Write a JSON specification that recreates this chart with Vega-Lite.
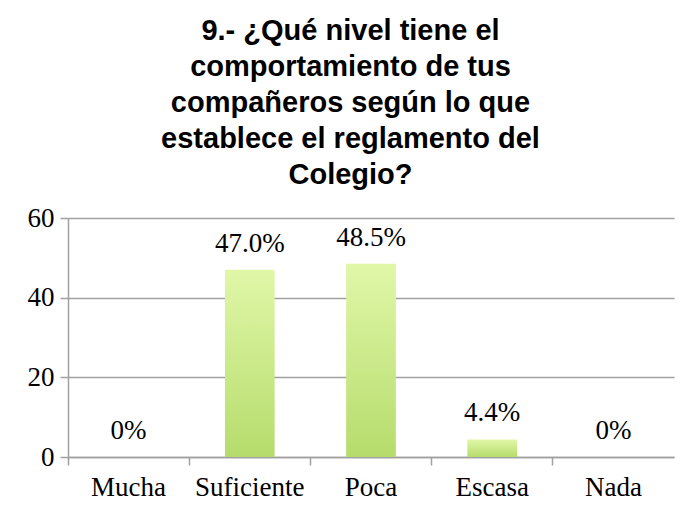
{
  "$schema": "https://vega.github.io/schema/vega-lite/v6.json",
  "width": 606,
  "height": 239,
  "padding": {"left": 27, "top": 17, "right": 20, "bottom": 20},
  "background": "white",
  "title": {
    "text": ["9.- ¿Qué nivel tiene el", "comportamiento de tus", "compañeros según lo que", "establece el reglamento del", "Colegio?"],
    "font": "Liberation Sans",
    "fontSize": 29,
    "fontWeight": "bold",
    "color": "black",
    "lineHeight": 36,
    "anchor": "middle",
    "frame": "bounds",
    "offset": 14
  },
  "data": {
    "values": [
      {"categoria": "Mucha", "valor": 0, "etiqueta": "0%"},
      {"categoria": "Suficiente", "valor": 47.0, "etiqueta": "47.0%"},
      {"categoria": "Poca", "valor": 48.5, "etiqueta": "48.5%"},
      {"categoria": "Escasa", "valor": 4.4, "etiqueta": "4.4%"},
      {"categoria": "Nada", "valor": 0, "etiqueta": "0%"}
    ]
  },
  "encoding": {
    "x": {
      "field": "categoria",
      "type": "nominal",
      "sort": null,
      "scale": {"paddingInner": 0, "paddingOuter": 0},
      "axis": {
        "title": null,
        "labelAngle": 0,
        "bandPosition": 0,
        "labelFont": "Liberation Serif",
        "labelFontSize": 27,
        "labelColor": "black",
        "labelPadding": 9,
        "tickSize": 8,
        "tickColor": "#a0a0a0",
        "tickWidth": 1.5,
        "domainColor": "#a0a0a0",
        "domainWidth": 1.5,
        "grid": false
      }
    },
    "y": {
      "field": "valor",
      "type": "quantitative",
      "scale": {"domain": [0, 60]},
      "axis": {
        "title": null,
        "values": [0, 20, 40, 60],
        "labelFont": "Liberation Serif",
        "labelFontSize": 27,
        "labelColor": "black",
        "labelPadding": 6,
        "tickSize": 8,
        "tickColor": "#a0a0a0",
        "tickWidth": 1.5,
        "domainColor": "#a0a0a0",
        "domainWidth": 1.5,
        "grid": true,
        "gridColor": "#a0a0a0",
        "gridWidth": 1.5
      }
    }
  },
  "layer": [
    {
      "mark": {
        "type": "bar",
        "width": {"band": 0.41},
        "color": {
          "gradient": "linear",
          "x1": 0, "y1": 0, "x2": 0, "y2": 1,
          "stops": [
            {"offset": 0, "color": "#e0f7a8"},
            {"offset": 1, "color": "#b6dc6c"}
          ]
        }
      }
    },
    {
      "mark": {
        "type": "text",
        "font": "Liberation Serif",
        "fontSize": 27,
        "color": "black",
        "baseline": "middle",
        "dy": -26
      },
      "encoding": {"text": {"field": "etiqueta"}}
    }
  ],
  "config": {"view": {"stroke": null}}
}
